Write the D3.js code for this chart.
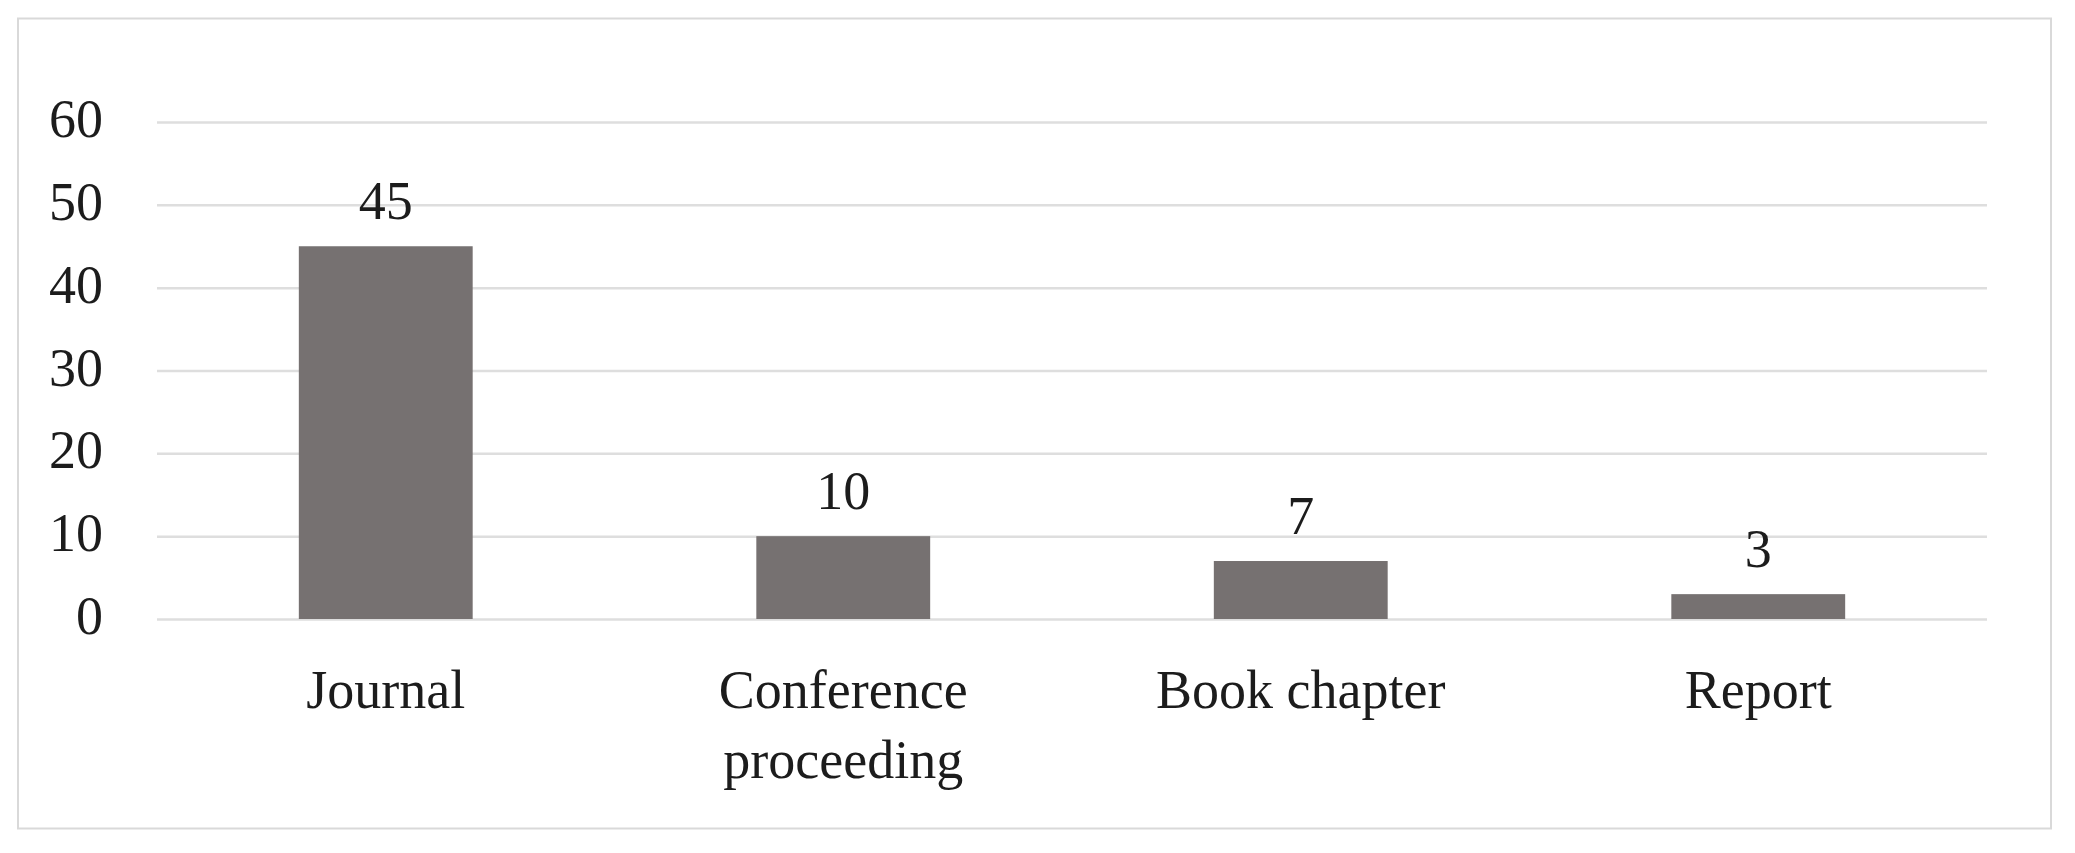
<!DOCTYPE html>
<html>
<head>
<meta charset="utf-8">
<script src="https://cdn.jsdelivr.net/npm/d3@7"></script>
<style>
  html, body { margin: 0; padding: 0; background: #ffffff; }
  svg { display: block; }
  text { font-family: "Liberation Serif", "DejaVu Serif", serif; fill: #1c1c1c; }
</style>
</head>
<body>
<svg id="chart" width="2075" height="853"></svg>
<script>
const categories = [["Journal"], ["Conference", "proceeding"], ["Book chapter"], ["Report"]];
const values = [45, 10, 7, 3];
const yTicks = [0, 10, 20, 30, 40, 50, 60];

const W = 2075, H = 853;
const FS = 54;
const margin = { left: 157, right: 88, top: 122, bottom: 234 };
const svg = d3.select("#chart");

// outer frame
svg.append("rect")
  .attr("x", 18).attr("y", 18.5)
  .attr("width", 2033).attr("height", 810)
  .attr("fill", "#ffffff")
  .attr("stroke", "#d9d9d9").attr("stroke-width", 2);

const x = d3.scaleBand()
  .domain(categories.map(c => c.join(" ")))
  .range([margin.left, W - margin.right])
  .paddingInner(0.62)
  .paddingOuter(0.31);

const y = d3.scaleLinear()
  .domain([0, 60])
  .range([H - margin.bottom, margin.top]);

// gridlines
const yAxis = d3.axisLeft(y).tickValues(yTicks).tickSize(-(W - margin.right - margin.left)).tickPadding(54);
const gy = svg.append("g")
  .attr("transform", `translate(${margin.left},0)`)
  .call(yAxis);
gy.select(".domain").remove();
gy.selectAll(".tick line").attr("stroke", "#dedede").attr("stroke-width", 2.5);
gy.selectAll(".tick text")
  .attr("font-size", FS)
  .attr("dy", "0.27em")
  .style("font-family", '"Liberation Serif", "DejaVu Serif", serif')
  .attr("fill", "#1c1c1c");

// bars
svg.append("g").selectAll("rect")
  .data(values)
  .join("rect")
  .attr("x", (d, i) => x(categories[i].join(" ")))
  .attr("y", d => y(d))
  .attr("width", x.bandwidth())
  .attr("height", d => y(0) - y(d))
  .attr("fill", "#767171");

// value labels
svg.append("g").selectAll("text")
  .data(values)
  .join("text")
  .attr("x", (d, i) => x(categories[i].join(" ")) + x.bandwidth() / 2)
  .attr("y", d => y(d) - 27)
  .attr("text-anchor", "middle")
  .attr("font-size", FS)
  .text(d => d);

// category labels
const cl = svg.append("g").selectAll("text")
  .data(categories)
  .join("text")
  .attr("x", c => x(c.join(" ")) + x.bandwidth() / 2)
  .attr("y", 708)
  .attr("text-anchor", "middle")
  .attr("font-size", FS);
cl.each(function(c) {
  const t = d3.select(this);
  const cx = t.attr("x");
  c.forEach((line, j) => {
    t.append("tspan").attr("x", cx).attr("dy", j === 0 ? 0 : 70).text(line);
  });
});
</script>
</body>
</html>
